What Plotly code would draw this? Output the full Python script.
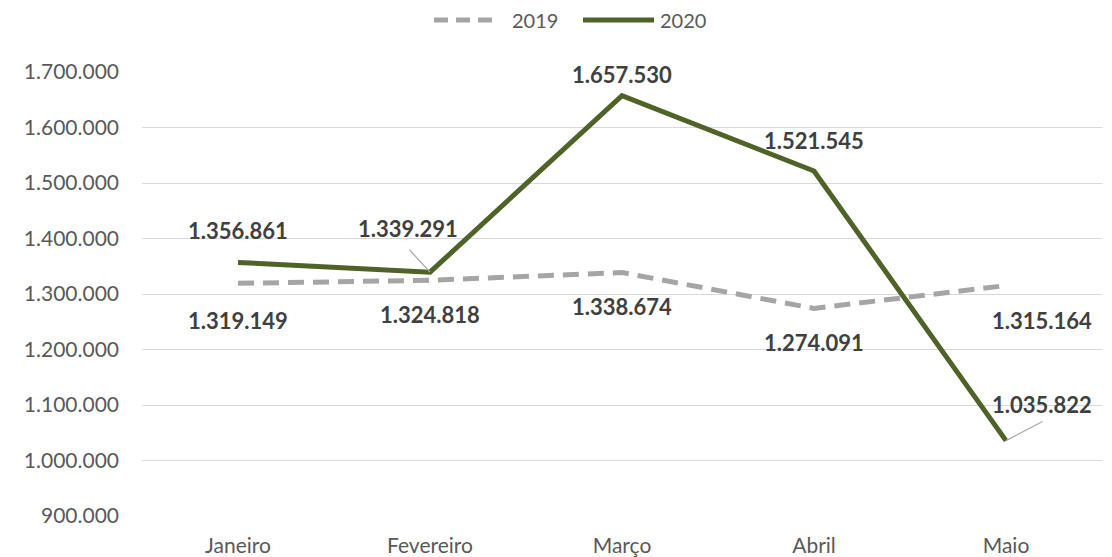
import plotly.graph_objects as go

months = ["Janeiro", "Fevereiro", "Março", "Abril", "Maio"]
v2019 = [1319149, 1324818, 1338674, 1274091, 1315164]
v2020 = [1356861, 1339291, 1657530, 1521545, 1035822]
ytick_vals = [900000, 1000000, 1100000, 1200000, 1300000, 1400000, 1500000, 1600000, 1700000]
series_names = ["2019", "2020"]

def fmt(v):
    return f"{v:,}".replace(",", ".")

FONT = "Lato, 'Open Sans', sans-serif"
GREEN = "#4F6228"
GRAY = "#A5A5A5"
OFF = 8  # page body margin
W, H = 1112 - OFF, 557 - OFF
ML, MR, MT, MB = 142 - OFF, 10, 72 - OFF, 41
PW, PH = W - ML - MR, H - MT - MB

def px_x(px):  # screenshot px -> paper
    return (px - OFF - ML) / PW

def px_y(py):
    return (H - MB - (py - OFF)) / PH

fig = go.Figure()
fig.add_trace(go.Scatter(x=months, y=v2019, name=series_names[0], mode="lines",
                         line=dict(color=GRAY, width=5, dash="16px,9px"), showlegend=False))
fig.add_trace(go.Scatter(x=months, y=v2020, name=series_names[1], mode="lines",
                         line=dict(color=GREEN, width=5), showlegend=False))

lab_font = dict(family=FONT, size=22, color="#404040")
ann = []
off2019 = [(0, -37), (0, -34), (0, -34), (0, -34), (36, -35)]
for m, v, (dx, dy) in zip(months, v2019, off2019):
    ann.append(dict(x=m, y=v, text=f"<b>{fmt(v)}</b>", showarrow=False,
                    xshift=dx, yshift=dy, font=lab_font))
off2020 = [(0, 32), (-22, 44), (0, 21), (0, 31), (36, 36)]
for m, v, (dx, dy) in zip(months, v2020, off2020):
    ann.append(dict(x=m, y=v, text=f"<b>{fmt(v)}</b>", showarrow=False,
                    xshift=dx, yshift=dy, font=lab_font))
# leader lines
ann.append(dict(x=months[1], y=v2020[1], text="", showarrow=True, arrowhead=0,
                arrowwidth=1.2, arrowcolor="#A6A6A6", ax=-22, ay=-24))
ann.append(dict(x=months[4], y=v2020[4], text="", showarrow=True, arrowhead=0,
                arrowwidth=1.2, arrowcolor="#A6A6A6", ax=38, ay=-20))

# custom legend (top centre)
shapes = [
    dict(type="line", xref="paper", yref="paper", x0=px_x(434), x1=px_x(497),
         y0=px_y(20), y1=px_y(20), line=dict(color=GRAY, width=5, dash="14px,8px")),
    dict(type="line", xref="paper", yref="paper", x0=px_x(583), x1=px_x(654),
         y0=px_y(20), y1=px_y(20), line=dict(color=GREEN, width=5)),
]
ann.append(dict(xref="paper", yref="paper", x=px_x(510), y=px_y(20), xanchor="left",
                yanchor="middle", text=series_names[0], showarrow=False,
                font=dict(family=FONT, size=20, color="#595959")))
ann.append(dict(xref="paper", yref="paper", x=px_x(658), y=px_y(20), xanchor="left",
                yanchor="middle", text=series_names[1], showarrow=False,
                font=dict(family=FONT, size=20, color="#595959")))

fig.update_layout(
    width=W, height=H,
    margin=dict(l=ML, r=MR, t=MT, b=MB),
    paper_bgcolor="white", plot_bgcolor="white",
    font=dict(family=FONT, size=21, color="#595959"),
    annotations=ann, shapes=shapes,
    showlegend=False,
)
fig.update_xaxes(showgrid=False, showline=False, ticks="", automargin=False,
                 ticklabelstandoff=15,
                 tickfont=dict(size=21, color="#595959"), range=[-0.5, 4.5])
fig.update_yaxes(range=[900000, 1700000], tickvals=ytick_vals,
                 ticktext=[fmt(v) for v in ytick_vals], automargin=False,
                 showgrid=True, gridcolor="#D9D9D9", gridwidth=1.3, zeroline=False,
                 showline=False, ticks="", ticklabelstandoff=22,
                 tickfont=dict(size=21, color="#595959"))

fig.write_html("out.html")
